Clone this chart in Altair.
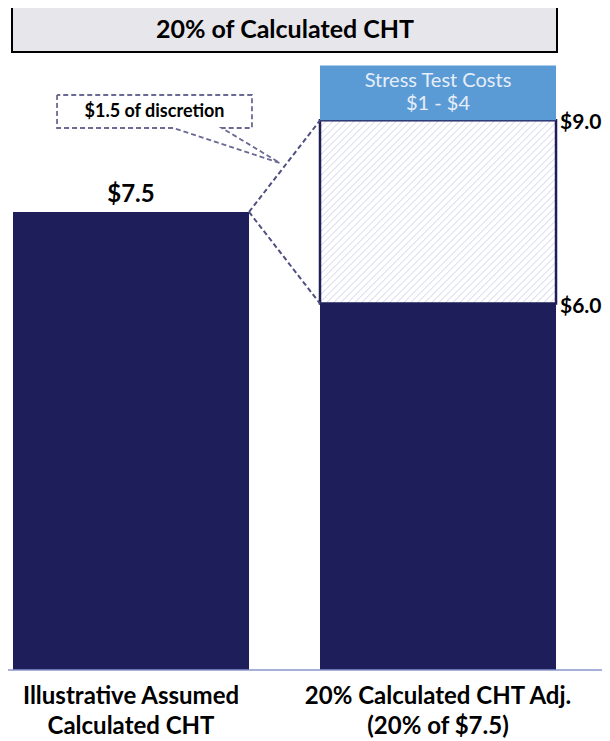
import altair as alt
import pandas as pd
import numpy as np

# ---------------- data ----------------
categories = ["Illustrative Assumed Calculated CHT", "20% Calculated CHT Adj. (20% of $7.5)"]
label_line1 = ["Illustrative Assumed", "20% Calculated CHT Adj."]
label_line2 = ["Calculated CHT", "(20% of $7.5)"]
bar_pos = [0, 1]
assumed_cht = 7.5
adj_low = 6.0
adj_high = 9.0
stress_top = 9.9
value_labels = ["$7.5", "$9.0", "$6.0"]
title_text = "20% of Calculated CHT"
stress_lines = ["Stress Test Costs", "$1 - $4"]
callout_text = "$1.5 of discretion"
# callout outline (data units: x in bar positions, y in $)
callout_x = [-0.241, -0.241, 0.137, 0.485, 0.296, 0.394, 0.394, -0.241]
callout_y = [9.415, 8.875, 8.875, 8.302, 8.875, 8.875, 9.415, 9.415]

# ---------------- layout ----------------
W, H = 594, 652
XMIN, XMAX = -0.4007, 1.5342
YMAX = 10.676
HW = 0.3844  # half bar width in x units
NAVY = "#1e1e5a"
FONT = "Lato"

xs = alt.Scale(domain=[XMIN, XMAX], nice=False, zero=False)
ys = alt.Scale(domain=[0, YMAX], nice=False, zero=False)

bars = pd.DataFrame({
    "x0": [bar_pos[0] - HW, bar_pos[1] - HW],
    "x1": [bar_pos[0] + HW, bar_pos[1] + HW],
    "y0": [0, 0],
    "y1": [assumed_cht, adj_low],
})
solid = alt.Chart(bars).mark_rect(color=NAVY).encode(
    x=alt.X("x0:Q", scale=xs, axis=None), x2="x1",
    y=alt.Y("y0:Q", scale=ys, axis=None), y2="y1")

hatch_box = pd.DataFrame({"x0": [bar_pos[1] - HW], "x1": [bar_pos[1] + HW],
                          "y0": [adj_low], "y1": [adj_high]})
hatch_bg = alt.Chart(hatch_box).mark_rect(fill="white").encode(
    x=alt.X("x0:Q", scale=xs, axis=None), x2="x1",
    y=alt.Y("y0:Q", scale=ys, axis=None), y2="y1")

# diagonal hatch texture (visual style only)
pxu = W / (XMAX - XMIN)
pyu = H / YMAX
bw = 2 * HW * pxu
bh = (adj_high - adj_low) * pyu
rows = []
for c in np.arange(-bh, bw, 7.0):
    a = max(0.0, c)
    b = min(bw, bh + c)
    if b - a < 0.5:
        continue
    rows.append({"hx0": bar_pos[1] - HW + a / pxu, "hy0": adj_low + (a - c) / pyu,
                 "hx1": bar_pos[1] - HW + b / pxu, "hy1": adj_low + (b - c) / pyu})
hatch = alt.Chart(pd.DataFrame(rows)).mark_rule(color="#cfd3ea", strokeWidth=1).encode(
    x=alt.X("hx0:Q", scale=xs, axis=None), x2="hx1",
    y=alt.Y("hy0:Q", scale=ys, axis=None), y2="hy1")
hatch_border = alt.Chart(hatch_box).mark_rect(fillOpacity=0, stroke=NAVY, strokeWidth=2.5).encode(
    x=alt.X("x0:Q", scale=xs, axis=None), x2="x1",
    y=alt.Y("y0:Q", scale=ys, axis=None), y2="y1")

stress_box = pd.DataFrame({"x0": [bar_pos[1] - HW], "x1": [bar_pos[1] + HW],
                           "y0": [adj_high], "y1": [stress_top]})
stress = alt.Chart(stress_box).mark_rect(color="#5b9bd5").encode(
    x=alt.X("x0:Q", scale=xs, axis=None), x2="x1",
    y=alt.Y("y0:Q", scale=ys, axis=None), y2="y1")
mid = (adj_high + stress_top) / 2
stress_layers = []
for line, off in zip(stress_lines, [-12, 11]):
    stress_layers.append(alt.Chart(pd.DataFrame({"x": [bar_pos[1]], "y": [mid], "t": [line]})).mark_text(
        font=FONT, fontSize=20, color="#e6eef9", baseline="middle", dy=off).encode(
        x=alt.X("x:Q", scale=xs, axis=None), y=alt.Y("y:Q", scale=ys, axis=None), text="t:N"))

# connectors
conn = pd.DataFrame({"cx0": [bar_pos[0] + HW] * 2, "cy0": [assumed_cht] * 2,
                     "cx1": [bar_pos[1] - HW] * 2, "cy1": [adj_high, adj_low]})
connectors = alt.Chart(conn).mark_rule(color="#4f4f80", strokeWidth=2, strokeDash=[5, 3]).encode(
    x=alt.X("cx0:Q", scale=xs, axis=None), x2="cx1",
    y=alt.Y("cy0:Q", scale=ys, axis=None), y2="cy1")

# value labels
vl = pd.DataFrame({"x": [bar_pos[0], bar_pos[1] + HW, bar_pos[1] + HW],
                   "y": [assumed_cht, adj_high, adj_low], "t": value_labels})
lbl_top = alt.Chart(vl.iloc[[0]]).mark_text(
    font=FONT, fontSize=24, fontWeight="bold", color="black", baseline="bottom", dy=-5).encode(
    x=alt.X("x:Q", scale=xs, axis=None), y=alt.Y("y:Q", scale=ys, axis=None), text="t:N")
lbl_side = alt.Chart(vl.iloc[[1, 2]]).mark_text(
    font=FONT, fontSize=21, fontWeight="bold", color="black", align="left",
    baseline="middle", dx=4, dy=3).encode(
    x=alt.X("x:Q", scale=xs, axis=None), y=alt.Y("y:Q", scale=ys, axis=None), text="t:N")

# callout
co = pd.DataFrame({"x": callout_x, "y": callout_y, "o": list(range(len(callout_x)))})
callout = alt.Chart(co).mark_line(color="#6a6a92", strokeWidth=1.8, strokeDash=[5, 3]).encode(
    x=alt.X("x:Q", scale=xs, axis=None), y=alt.Y("y:Q", scale=ys, axis=None), order="o:Q")
callout_lbl = alt.Chart(pd.DataFrame({"x": [(callout_x[0] + callout_x[5]) / 2],
                                      "y": [(callout_y[0] + callout_y[1]) / 2],
                                      "t": [callout_text]})).mark_text(
    font=FONT, fontSize=18, fontWeight="bold", color="black", baseline="middle").encode(
    x=alt.X("x:Q", scale=xs, axis=None), y=alt.Y("y:Q", scale=ys, axis=None), text="t:N")

# baseline
base = alt.Chart(pd.DataFrame({"y": [0]})).mark_rule(color="#8896cc", strokeWidth=1.5).encode(
    y=alt.Y("y:Q", scale=ys, axis=None), x=alt.value(0), x2=alt.value(W))

# category labels
cl = pd.DataFrame({"x": bar_pos, "l1": label_line1, "l2": label_line2})
cat1 = alt.Chart(cl).mark_text(font=FONT, fontSize=24, fontWeight="bold", color="black",
                               baseline="middle").encode(
    x=alt.X("x:Q", scale=xs, axis=None), y=alt.value(H + 27), text="l1:N")
cat2 = alt.Chart(cl).mark_text(font=FONT, fontSize=24, fontWeight="bold", color="black",
                               baseline="middle").encode(
    x=alt.X("x:Q", scale=xs, axis=None), y=alt.value(H + 57), text="l2:N")

# title box
tb = alt.Chart(pd.DataFrame({"t": [title_text]})).mark_rect(
    fill="#e7e6eb", stroke="black", strokeWidth=2).encode(
    x=alt.value(4), x2=alt.value(549), y=alt.value(-12), y2=alt.value(34))
tt = alt.Chart(pd.DataFrame({"t": [title_text]})).mark_text(
    font=FONT, fontSize=25, fontWeight="bold", color="black", baseline="middle").encode(
    x=alt.value(277), y=alt.value(12), text="t:N")

chart = alt.layer(
    solid, hatch_bg, hatch, hatch_border, stress, *stress_layers, connectors,
    lbl_top, lbl_side, callout, callout_lbl, base, cat1, cat2, tb, tt
).properties(
    width=W, height=H,
    autosize=alt.AutoSizeParams(type="none"),
    padding={"left": 0, "top": 10, "right": 0, "bottom": 70},
).configure_view(stroke=None)

chart.save("out.html", embed_options={"renderer": "svg", "actions": False})
